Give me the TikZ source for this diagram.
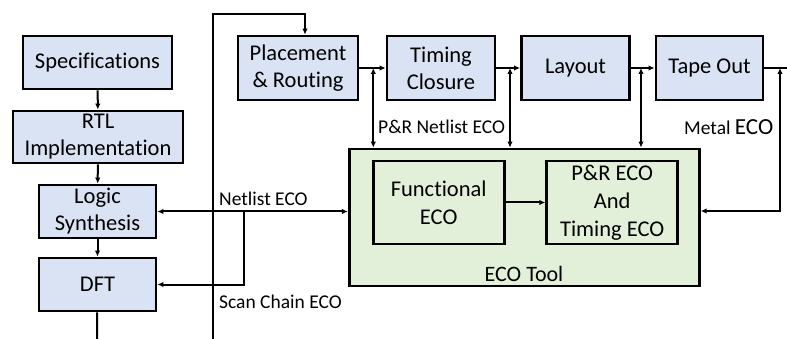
\documentclass[tikz,border=0pt]{standalone}
\usepackage{fontspec}
\setmainfont[Ligatures=NoCommon]{Carlito}
\usetikzlibrary{arrows.meta}

\definecolor{stageblue}{RGB}{218,227,243}
\definecolor{ecogreen}{RGB}{226,240,217}

\tikzset{
    stage/.style={draw,line width=2.8pt,fill=stageblue,inner sep=0pt,align=center,
        font=\fontsize{22.5}{27}\selectfont},
    ecobox/.style={draw,line width=2.8pt,fill=ecogreen,inner sep=0pt,align=center,
        font=\fontsize{22.5}{28}\selectfont},
    flow/.style={line width=2pt,-{Latex[length=6pt,width=5.5pt]}},
    dflow/.style={line width=2pt,{Latex[length=6pt,width=5.5pt]}-{Latex[length=6pt,width=5.5pt]}},
    wire/.style={line width=2pt},
    lbl/.style={anchor=west,inner sep=0pt,font=\fontsize{19.5}{22}\selectfont}
}

\begin{document}
\begin{tikzpicture}[x=1pt,y=-1pt]
        \useasboundingbox (0,0) rectangle (787,339);

        % front end
        \node[stage,minimum width=149,minimum height=53] (spec) at (97.5,62.5) {Specifications};
        \node[stage,minimum width=170,minimum height=52] (rtl) at (98,137) {RTL\\Implementation};
        \node[stage,minimum width=117,minimum height=53] (logic) at (97.5,211.5) {Logic\\Synthesis};
        \node[stage,minimum width=117,minimum height=53] (dft) at (97.5,284.5) {DFT};

        % back end
        \node[stage,minimum width=120,minimum height=64] (pr) at (298,68) {Placement\\\&~Routing};
        \node[stage,minimum width=108,minimum height=64] (timing) at (441,68) {Timing\\Closure};
        \node[stage,minimum width=108,minimum height=64] (layout) at (575.5,68) {Layout};
        \node[stage,minimum width=107,minimum height=64] (tape) at (709.5,68) {Tape Out};

        % eco tool
        \node[ecobox,minimum width=350,minimum height=137] (eco) at (524.3,217.5) {};
        \node[ecobox,minimum width=131,minimum height=83] (func) at (438.7,202.5) {Functional\\ECO};
        \node[ecobox,minimum width=131,minimum height=83] (preco) at (612.2,202.5) {P\&R ECO\\And\\Timing ECO};
        \node[lbl,anchor=center,font=\fontsize{22}{24}\selectfont] (ecolbl) at (524,274) {ECO Tool};

        \coordinate (specbot) at (97,339);
        \coordinate (loopbot) at (213,339);
        \coordinate (looptop) at (305,14);
        \coordinate (j1) at (373.3,68);
        \coordinate (j2) at (510,68);
        \coordinate (j3) at (641,68);
        \coordinate (j4) at (780,68);
        \coordinate (edge) at (787,68);
        \coordinate (sc) at (244.3,211.5);

        \draw[flow] (spec) -- (rtl);
        \draw[flow] (rtl) -- (logic);
        \draw[flow] (logic) -- (dft);
        \draw[wire] (dft) -- (specbot);

        \draw[flow] (loopbot) |- (looptop) -- (looptop |- pr.north);

        \draw[flow] (pr) -- (timing);
        \draw[flow] (timing) -- (layout);
        \draw[flow] (layout) -- (tape);
        \draw[wire] (tape) -- (edge);

        \draw[dflow] (j1) -- (j1 |- eco.north);
        \draw[dflow] (j2) -- (j2 |- eco.north);
        \draw[dflow] (j3) -- (j3 |- eco.north);
        \draw[dflow] (j4) |- ([yshift=6.5pt]eco.east);

        \draw[dflow] (logic.east) -- (logic.east -| eco.west);
        \draw[flow] (sc) |- (dft.east);
        \draw[flow] (func) -- (preco);

        \node[lbl] (netlbl) at (219,199) {Netlist ECO};
        \node[lbl] (scanlbl) at (219,302) {Scan Chain ECO};
        \node[lbl] (prlbl) at (378,127) {P\&R Netlist ECO};
        \node[lbl] (metallbl) at (684,127) {Metal {\fontsize{23}{24}\selectfont ECO}};
    \end{tikzpicture}
\end{document}
